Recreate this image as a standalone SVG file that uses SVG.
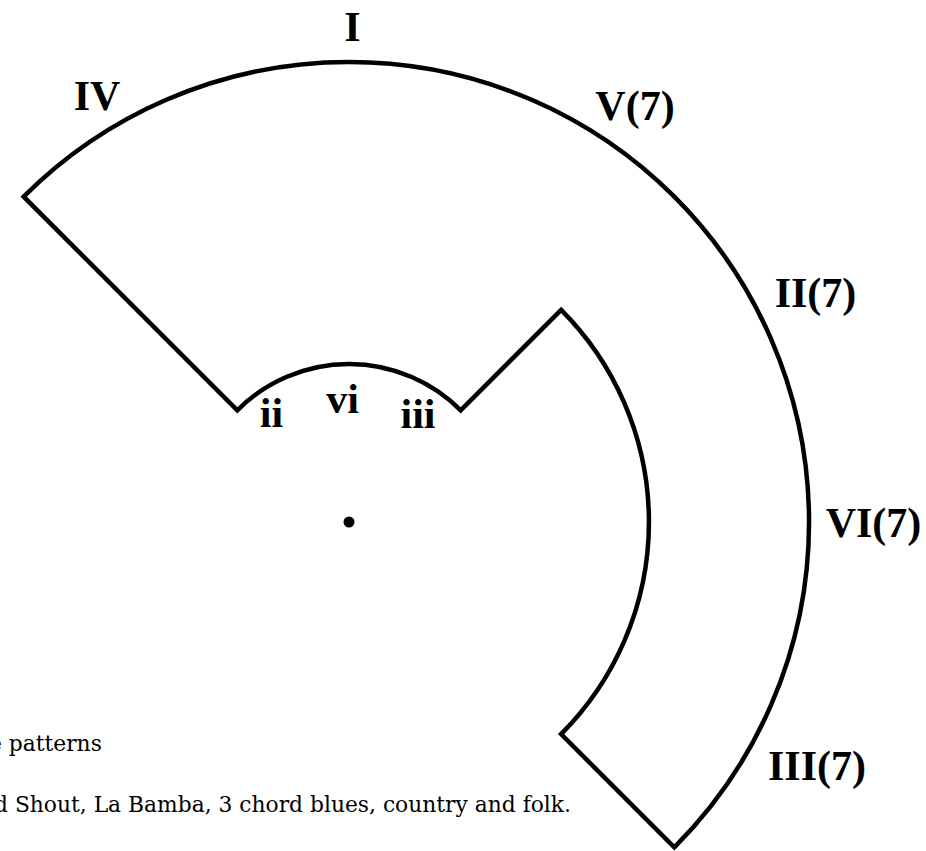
<svg xmlns="http://www.w3.org/2000/svg" width="926" height="851" viewBox="0 0 926 851">
  <style>
    .shape { fill: none; stroke: #000; stroke-width: 4.5; stroke-linejoin: miter; stroke-miterlimit: 10; }
    .lbl { font-family: "Liberation Serif", "Times New Roman", serif; font-weight: bold; font-size: 42px; fill: #000; text-anchor: middle; }
    .note { font-family: "DejaVu Serif", "Liberation Serif", serif; font-size: 21.8px; fill: #000; }
  </style>
  <rect x="0" y="0" width="926" height="851" fill="#fff"/>
  <g id="wheel">
    <path class="shape" d="M 23.7 196.7 A 460 460 0 1 1 674.3 847.3 L 561.1 734.1 A 300 300 0 0 0 561.1 309.9 L 460.7 410.3 A 158 158 0 0 0 237.3 410.3 Z"/>
  </g>
  <g id="center">
    <circle cx="349" cy="522" r="5.5" fill="#000"/>
  </g>
  <g id="outer-labels">
    <text class="lbl" x="352.5" y="41">I</text>
    <text class="lbl" x="97" y="110">IV</text>
    <text class="lbl" x="635" y="120">V(7)</text>
    <text class="lbl" x="815.5" y="307">II(7)</text>
    <text class="lbl" x="873.5" y="537">VI(7)</text>
    <text class="lbl" x="817" y="780">III(7)</text>
  </g>
  <g id="inner-labels">
    <text class="lbl" x="271.5" y="427">ii</text>
    <text class="lbl" x="342.5" y="413">vi</text>
    <text class="lbl" x="418" y="428">iii</text>
  </g>
  <g id="notes">
    <text class="note" x="-11" y="751">e patterns</text>
    <text class="note" x="-6" y="812">d Shout, La Bamba, 3 chord blues, country and folk.</text>
  </g>
</svg>
